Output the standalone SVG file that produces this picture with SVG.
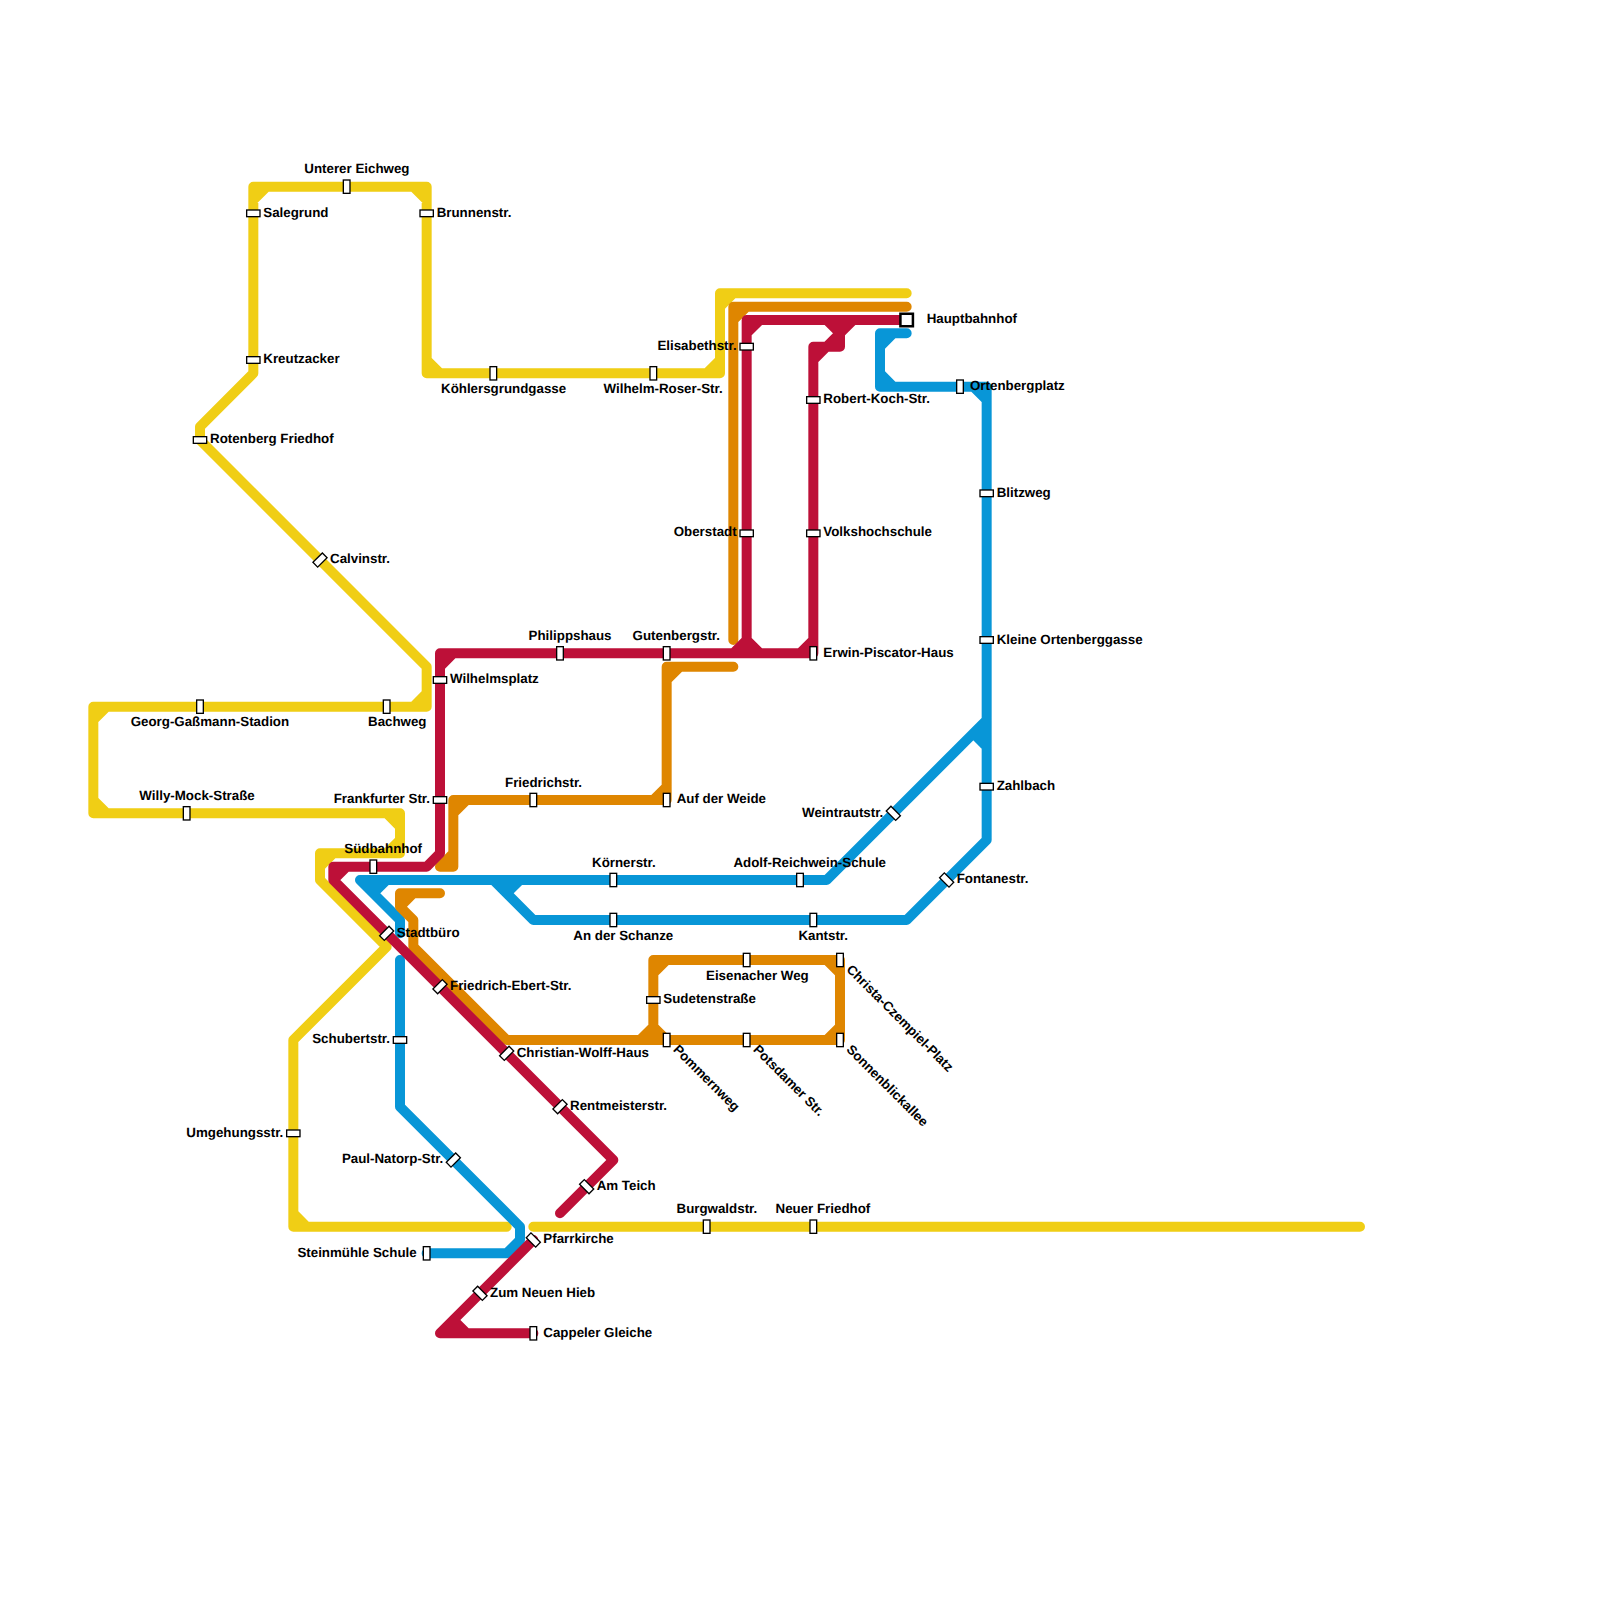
<svg xmlns="http://www.w3.org/2000/svg" width="1600" height="1600" viewBox="0 0 1600 1600">
<style>
.l{fill:none;stroke-width:.75;stroke-linecap:round;stroke-linejoin:round}
.y{stroke:#f0ce15}.o{stroke:#df8600}.r{stroke:#bd1038}.b{stroke:#0896d7}
text{font-family:"Liberation Sans",Arial,sans-serif;font-size:13.33px;font-weight:700;fill:#000;text-rendering:geometricPrecision}
.e{text-anchor:end}
.st{fill:#fff;stroke:#000;stroke-width:1.33}
.hub{fill:#fff;stroke:#000;stroke-width:2.5}
</style>
<defs><rect id="s" class="st" x="-6.67" y="-3.33" width="13.33" height="6.67"/></defs>
<rect width="1600" height="1600" fill="#fff"/>
<g id="connectors" transform="scale(13.33333)">
<path class="l y" d="M68 22H54V28H32V14H19V28L15 32V33L32 50V53H7V61H30V64H24V66L29 71L22 78V92H38M55 22L54 23M54 27L53 28M33 28L32 27M32 15L31 14M20 14L19 15M32 52L31 53M8 53L7 54M7 60L8 61M29 61L30 62M30 63L29 64M25 64L24 65M22 91L23 92M40 92H102"/>
<path class="l b" d="M68 25H66V29H74V63L68 69H40L37 66M67 25L66 26M66 28L67 29M73 29L74 30M62 66L74 54M73 55L74 56M73 55H74M62 66H27L30 69V70M29 66L28 67V66M39 66L38 67V66M30 72V83L39 92V93L38 94H32"/>
<path class="l o" d="M68 23H55V48M56 23L55 24M55 50H50V60H34V65H33M51 50L50 51M50 59L49 60M35 60L34 61M34 64L33 65M33 67H30V68L31 69V71L38 78H63V72H49V78M31 67L30 68M62 78L63 77M63 73L62 72M49 73L50 72M48 78L49 77L50 78"/>
<path class="l r" d="M68 24H56V49M57 24L56 25M33 64V49H61V26H63V24M34 49L33 50M55 49L56 48L57 49M60 49L61 48M61 27L63 25M62 24L63 25L64 24M33 64L32 65H25V66L46 87L42 91M26 65L25 66M40 93L33 100H40M33 100L34 99L35 100M34 99V100"/>
</g>
<g id="stations">
<g id="salegrund"><use href="#s" transform="translate(253.33,213.33)"/><text x="263.3" y="216.67">Salegrund</text></g>
<g id="kreutzacker"><use href="#s" transform="translate(253.33,360)"/><text x="263.3" y="363.3">Kreutzacker</text></g>
<g id="unterer-eichweg"><use href="#s" transform="translate(346.67,186.67) rotate(90)"/><text x="304.3" y="173.3">Unterer Eichweg</text></g>
<g id="brunnenstr"><use href="#s" transform="translate(426.67,213.33)"/><text x="436.67" y="216.67">Brunnenstr.</text></g>
<g id="koehlersgrundgasse"><use href="#s" transform="translate(493.33,373.33) rotate(90)"/><text x="441" y="393.3">Köhlersgrundgasse</text></g>
<g id="wilhelm-roser"><use href="#s" transform="translate(653.33,373.33) rotate(90)"/><text class="e" x="722.67" y="393.3">Wilhelm-Roser-Str.</text></g>
<g id="elisabethstr"><use href="#s" transform="translate(746.67,346.67)"/><text class="e" x="736.67" y="350">Elisabethstr.</text></g>
<g id="oberstadt"><use href="#s" transform="translate(746.67,533.33)"/><text class="e" x="736.67" y="536.3">Oberstadt</text></g>
<g id="robert-koch"><use href="#s" transform="translate(813.33,400)"/><text x="823.33" y="403.3">Robert-Koch-Str.</text></g>
<g id="volkshochschule"><use href="#s" transform="translate(813.33,533.33)"/><text x="823.33" y="536.3">Volkshochschule</text></g>
<g id="erwin-piscator"><use href="#s" transform="translate(813.33,653.33) rotate(90)"/><text x="823.33" y="656.67">Erwin-Piscator-Haus</text></g>
<g id="gutenbergstr"><use href="#s" transform="translate(666.67,653.33) rotate(90)"/><text class="e" x="720" y="640">Gutenbergstr.</text></g>
<g id="philippshaus"><use href="#s" transform="translate(560,653.33) rotate(90)"/><text x="528.6" y="640">Philippshaus</text></g>
<g id="hauptbahnhof"><rect class="hub" x="900.42" y="313.75" width="12.5" height="12.5"/><text x="926.67" y="323.3">Hauptbahnhof</text></g>
<g id="ortenbergplatz"><use href="#s" transform="translate(960,386.67) rotate(90)"/><text x="970" y="390">Ortenbergplatz</text></g>
<g id="blitzweg"><use href="#s" transform="translate(986.67,493.33)"/><text x="996.67" y="496.67">Blitzweg</text></g>
<g id="kleine-ortenberggasse"><use href="#s" transform="translate(986.67,640)"/><text x="996.67" y="643.7">Kleine Ortenberggasse</text></g>
<g id="zahlbach"><use href="#s" transform="translate(986.67,786.67)"/><text x="996.67" y="790">Zahlbach</text></g>
<g id="fontanestr"><use href="#s" transform="translate(946.67,880) rotate(45)"/><text x="956.67" y="883.3">Fontanestr.</text></g>
<g id="weintrautstr"><use href="#s" transform="translate(893.33,813.33) rotate(45)"/><text class="e" x="883.33" y="816.67">Weintrautstr.</text></g>
<g id="adolf-reichwein"><use href="#s" transform="translate(800,880) rotate(90)"/><text class="e" x="886" y="866.67">Adolf-Reichwein-Schule</text></g>
<g id="kantstr"><use href="#s" transform="translate(813.33,920) rotate(90)"/><text class="e" x="848" y="940">Kantstr.</text></g>
<g id="an-der-schanze"><use href="#s" transform="translate(613.33,920) rotate(90)"/><text class="e" x="673.3" y="940">An der Schanze</text></g>
<g id="koernerstr"><use href="#s" transform="translate(613.33,880) rotate(90)"/><text x="592" y="866.67">Körnerstr.</text></g>
<g id="friedrichstr"><use href="#s" transform="translate(533.33,800) rotate(90)"/><text x="505" y="786.67">Friedrichstr.</text></g>
<g id="auf-der-weide"><use href="#s" transform="translate(666.67,800) rotate(90)"/><text x="676.67" y="803.3">Auf der Weide</text></g>
<g id="frankfurter-str"><use href="#s" transform="translate(440,800)"/><text class="e" x="430" y="803.3">Frankfurter Str.</text></g>
<g id="wilhelmsplatz"><use href="#s" transform="translate(440,680)"/><text x="450" y="683.3">Wilhelmsplatz</text></g>
<g id="bachweg"><use href="#s" transform="translate(386.67,706.67) rotate(90)"/><text x="368" y="726.3">Bachweg</text></g>
<g id="georg-gassmann"><use href="#s" transform="translate(200,706.67) rotate(90)"/><text x="130.67" y="726.3">Georg-Gaßmann-Stadion</text></g>
<g id="willy-mock"><use href="#s" transform="translate(186.67,813.33) rotate(90)"/><text x="139.33" y="800">Willy-Mock-Straße</text></g>
<g id="rotenberg-friedhof"><use href="#s" transform="translate(200,440)"/><text x="210" y="443.3">Rotenberg Friedhof</text></g>
<g id="calvinstr"><use href="#s" transform="translate(320,560) rotate(-45)"/><text x="330" y="563.3">Calvinstr.</text></g>
<g id="suedbahnhof"><use href="#s" transform="translate(373.33,866.67) rotate(90)"/><text x="344.3" y="853.3">Südbahnhof</text></g>
<g id="stadtbuero"><use href="#s" transform="translate(386.67,933.33) rotate(-45)"/><text x="396.67" y="936.67">Stadtbüro</text></g>
<g id="friedrich-ebert"><use href="#s" transform="translate(440,986.67) rotate(-45)"/><text x="450" y="990">Friedrich-Ebert-Str.</text></g>
<g id="christian-wolff"><use href="#s" transform="translate(506.67,1053.33) rotate(-45)"/><text x="516.67" y="1056.67">Christian-Wolff-Haus</text></g>
<g id="schubertstr"><use href="#s" transform="translate(400,1040)"/><text class="e" x="390" y="1043.3">Schubertstr.</text></g>
<g id="rentmeisterstr"><use href="#s" transform="translate(560,1106.67) rotate(-45)"/><text x="570" y="1110">Rentmeisterstr.</text></g>
<g id="am-teich"><use href="#s" transform="translate(586.67,1186.67) rotate(45)"/><text x="596.67" y="1190">Am Teich</text></g>
<g id="pfarrkirche"><use href="#s" transform="translate(533.33,1240) rotate(45)"/><text x="543.33" y="1243.3">Pfarrkirche</text></g>
<g id="zum-neuen-hieb"><use href="#s" transform="translate(480,1293.33) rotate(45)"/><text x="490" y="1296.67">Zum Neuen Hieb</text></g>
<g id="cappeler-gleiche"><use href="#s" transform="translate(533.33,1333.33) rotate(90)"/><text x="543.33" y="1336.67">Cappeler Gleiche</text></g>
<g id="steinmuehle-schule"><use href="#s" transform="translate(426.67,1253.33) rotate(90)"/><text class="e" x="416.67" y="1256.67">Steinmühle Schule</text></g>
<g id="paul-natorp"><use href="#s" transform="translate(453.33,1160) rotate(-45)"/><text class="e" x="443.33" y="1163.3">Paul-Natorp-Str.</text></g>
<g id="umgehungsstr"><use href="#s" transform="translate(293.33,1133.33)"/><text class="e" x="283.33" y="1136.67">Umgehungsstr.</text></g>
<g id="burgwaldstr"><use href="#s" transform="translate(706.67,1226.67) rotate(90)"/><text x="676.5" y="1213.3">Burgwaldstr.</text></g>
<g id="neuer-friedhof"><use href="#s" transform="translate(813.33,1226.67) rotate(90)"/><text x="775.5" y="1213.3">Neuer Friedhof</text></g>
<g id="sudetenstrasse"><use href="#s" transform="translate(653.33,1000)"/><text x="663.33" y="1003.3">Sudetenstraße</text></g>
<g id="eisenacher-weg"><use href="#s" transform="translate(746.67,960) rotate(90)"/><text x="706" y="980">Eisenacher Weg</text></g>
<g id="pommernweg"><use href="#s" transform="translate(666.67,1040) rotate(90)"/><text transform="translate(672.5,1050.3) rotate(45)">Pommernweg</text></g>
<g id="potsdamer-str"><use href="#s" transform="translate(746.67,1040) rotate(90)"/><text transform="translate(752.5,1050.3) rotate(45)">Potsdamer Str.</text></g>
<g id="sonnenblickallee"><use href="#s" transform="translate(840,1040) rotate(90)"/><text transform="translate(845.8,1050.3) rotate(45)">Sonnenblickallee</text></g>
<g id="christa-czempiel"><use href="#s" transform="translate(840,960) rotate(90)"/><text transform="translate(845.8,970.3) rotate(45)">Christa-Czempiel-Platz</text></g>
</g>
</svg>
